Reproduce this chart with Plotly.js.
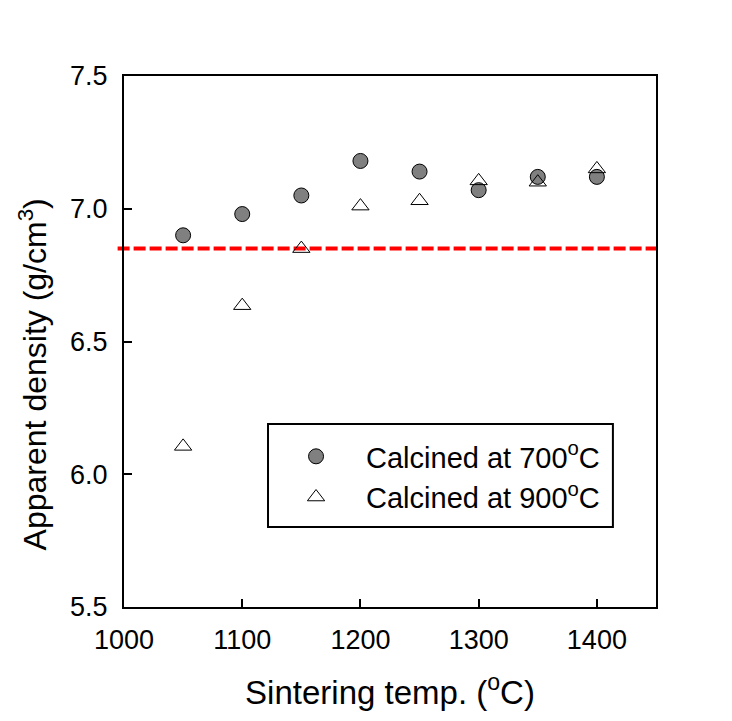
<!DOCTYPE html>
<html>
<head>
<meta charset="utf-8">
<script src="https://cdn.plot.ly/plotly-3.0.1.min.js"></script>
<style>html,body{margin:0;padding:0;background:#fff;}</style>
</head>
<body>
<div id="chart" style="width:732px;height:721px;"></div>
<script>
const sinterTemp = [1050, 1100, 1150, 1200, 1250, 1300, 1350, 1400];
const density700 = [6.90, 6.98, 7.05, 7.18, 7.14, 7.07, 7.12, 7.12];
const density900 = [6.105, 6.635, 6.85, 7.01, 7.03, 7.105, 7.10, 7.15];
const referenceDensity = [6.85];
const seriesNames = ['Calcined at 700<sup>o</sup>C', 'Calcined at 900<sup>o</sup>C'];
const xTicks = [1000, 1100, 1200, 1300, 1400];
const yTicks = [5.5, 6.0, 6.5, 7.0, 7.5];
const xTitle = 'Sintering temp. (<sup>o</sup>C)';
const yTitle = 'Apparent density (g/cm<sup>3</sup>)';

const font = 'Liberation Sans, Arial, sans-serif';

const traces = [
  {
    x: sinterTemp, y: density700, type: 'scatter', mode: 'markers', name: seriesNames[0],
    marker: {symbol: 'circle', size: 15, color: '#808080', line: {color: '#000', width: 1}}
  },
  {
    x: sinterTemp, y: density900, type: 'scatter', mode: 'markers', name: seriesNames[1],
    marker: {symbol: 'triangle-up-open', size: 15, color: '#000', line: {color: '#000', width: 1}}
  }
];

const layout = {
  width: 732, height: 721,
  margin: {l: 124, r: 76, t: 76, b: 114},
  paper_bgcolor: '#fff', plot_bgcolor: '#fff',
  font: {family: font, size: 27, color: '#000'},
  showlegend: true,
  legend: {
    x: 0.267, y: 0.3315, xanchor: 'left', yanchor: 'top',
    borderwidth: 0, bgcolor: 'rgba(0,0,0,0)',
    font: {family: font, size: 29, color: '#000'},
    itemwidth: 90, tracegroupgap: 0
  },
  xaxis: {
    range: [1000, 1450], tickvals: xTicks,
    ticks: 'inside', ticklen: 8, tickwidth: 2, tickcolor: '#000',
    ticklabelstandoff: 8,
    showline: true, linecolor: '#000', linewidth: 2, mirror: true,
    showgrid: false, zeroline: false,
    tickfont: {family: font, size: 27},
    title: {text: xTitle, font: {family: font, size: 33}, standoff: 26}
  },
  yaxis: {
    range: [5.5, 7.5], tickvals: yTicks, tickformat: '.1f',
    ticks: 'inside', ticklen: 8, tickwidth: 2, tickcolor: '#000',
    ticklabelstandoff: 9,
    showline: true, linecolor: '#000', linewidth: 2, mirror: true,
    showgrid: false, zeroline: false,
    tickfont: {family: font, size: 27}
  },
  annotations: [{
    text: yTitle, xref: 'paper', yref: 'paper', x: -0.172, y: 0.439,
    xanchor: 'center', yanchor: 'middle', textangle: -90, showarrow: false,
    font: {family: font, size: 32, color: '#000'}
  }],
  shapes: referenceDensity.map(v => ({
    type: 'line', xref: 'paper', yref: 'y', x0: -0.012, x1: 1.004, y0: v, y1: v,
    line: {color: '#ff0000', width: 4, dash: '12px,4px'}, layer: 'below'
  })).concat([{
    type: 'rect', xref: 'paper', yref: 'paper', x0: 0.2707, x1: 0.919, y0: 0.1507, y1: 0.3446,
    line: {color: '#000', width: 2}, fillcolor: 'rgba(0,0,0,0)', layer: 'above'
  }])
};

Plotly.newPlot('chart', traces, layout, {displayModeBar: false, staticPlot: true});
</script>
</body>
</html>
